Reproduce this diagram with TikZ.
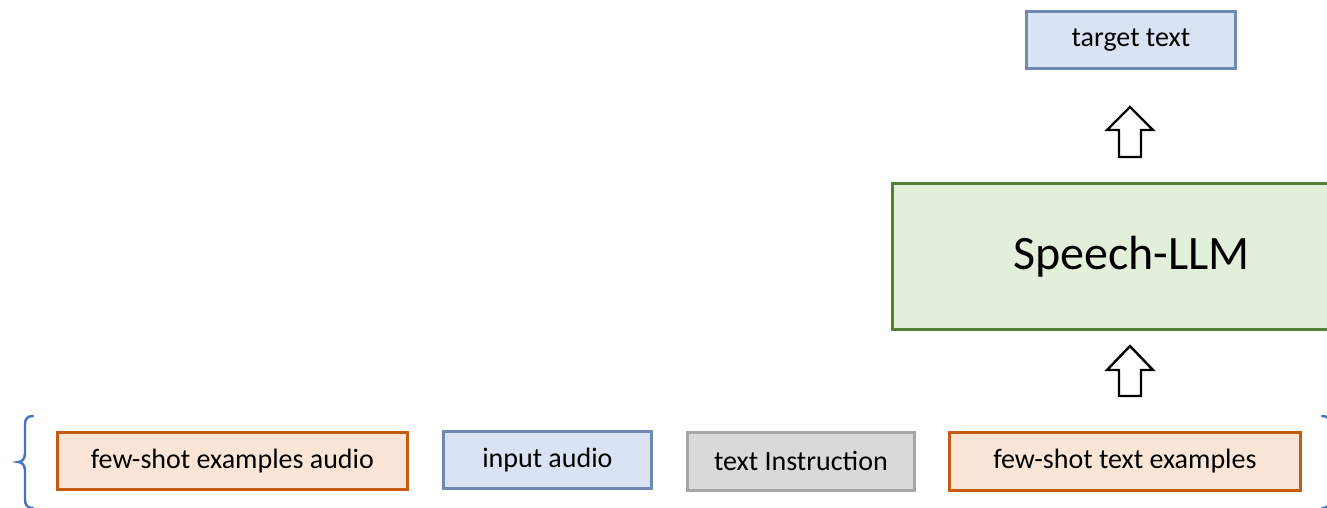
\documentclass[tikz,border=0pt]{standalone}
\usepackage{fontspec}
\setmainfont{Carlito}
\begin{document}
\begin{tikzpicture}[x=1pt,y=-1pt,
  box/.style={draw,line width=2.8pt,inner sep=0pt,anchor=north west,font=\fontsize{28}{32}\selectfont},
  orangebox/.style={box,draw=orgline,fill=orgfill},
  bluebox/.style={box,draw=bluline,fill=blufill},
  greybox/.style={box,draw=greyline,fill=greyfill},
  llmbox/.style={box,draw=grnline,fill=grnfill,font=\fontsize{48}{54}\selectfont},
  blockarrow/.style={draw=black,line width=2.4pt,fill=white,line join=miter},
  bracestyle/.style={draw=braceblue,line width=2.4pt,line cap=round}]
\definecolor{orgline}{HTML}{C55A11}
\definecolor{orgfill}{HTML}{FBE5D6}
\definecolor{bluline}{HTML}{6F88AE}
\definecolor{blufill}{HTML}{DAE3F3}
\definecolor{greyline}{HTML}{A6A6A6}
\definecolor{greyfill}{HTML}{D9D9D9}
\definecolor{grnline}{HTML}{548235}
\definecolor{grnfill}{HTML}{E2EFDA}
\definecolor{braceblue}{HTML}{4472C4}
\useasboundingbox (0,0) rectangle (1327,507);
\begin{scope}
\clip (0,0) rectangle (1327,507);
% boxes
\node[orangebox,minimum width=350pt,minimum height=57pt] (fsa) at (56,431) {few-shot examples audio};
\node[bluebox,minimum width=208pt,minimum height=57pt] (ia) at (442,430) {input audio};
\node[greybox,minimum width=227pt,minimum height=58pt] (ti) at (686,431) {text Instruction};
\node[orangebox,minimum width=351pt,minimum height=58pt] (fst) at (948,431) {few-shot text examples};
\node[llmbox,minimum width=478pt,minimum height=146pt] (llm) at (891,182) {Speech-LLM};
\node[bluebox,minimum width=209pt,minimum height=57pt] (tt) at (1025,10) {target text};
% block arrows
\draw[blockarrow] (1130,107) -- (1153,130) -- (1141,130) -- (1141,157) -- (1119,157) -- (1119,130) -- (1107,130) -- cycle;
\draw[blockarrow] (1130,346) -- (1153,370) -- (1141,370) -- (1141,396) -- (1119,396) -- (1119,370) -- (1107,370) -- cycle;
% braces
\draw[bracestyle] (33,416) .. controls (27,416) and (25,419) .. (25,425) -- (25,453)
  .. controls (25,459) and (22,462) .. (18,462)
  .. controls (22,462) and (25,465) .. (25,471) -- (25,499)
  .. controls (25,505) and (27,508) .. (33,508);
\draw[bracestyle] (1322,416) .. controls (1328,416) and (1330,419) .. (1330,425) -- (1330,453)
  .. controls (1330,459) and (1333,462) .. (1337,462)
  .. controls (1333,462) and (1330,465) .. (1330,471) -- (1330,499)
  .. controls (1330,505) and (1328,508) .. (1322,508);
\end{scope}
\end{tikzpicture}
\end{document}
